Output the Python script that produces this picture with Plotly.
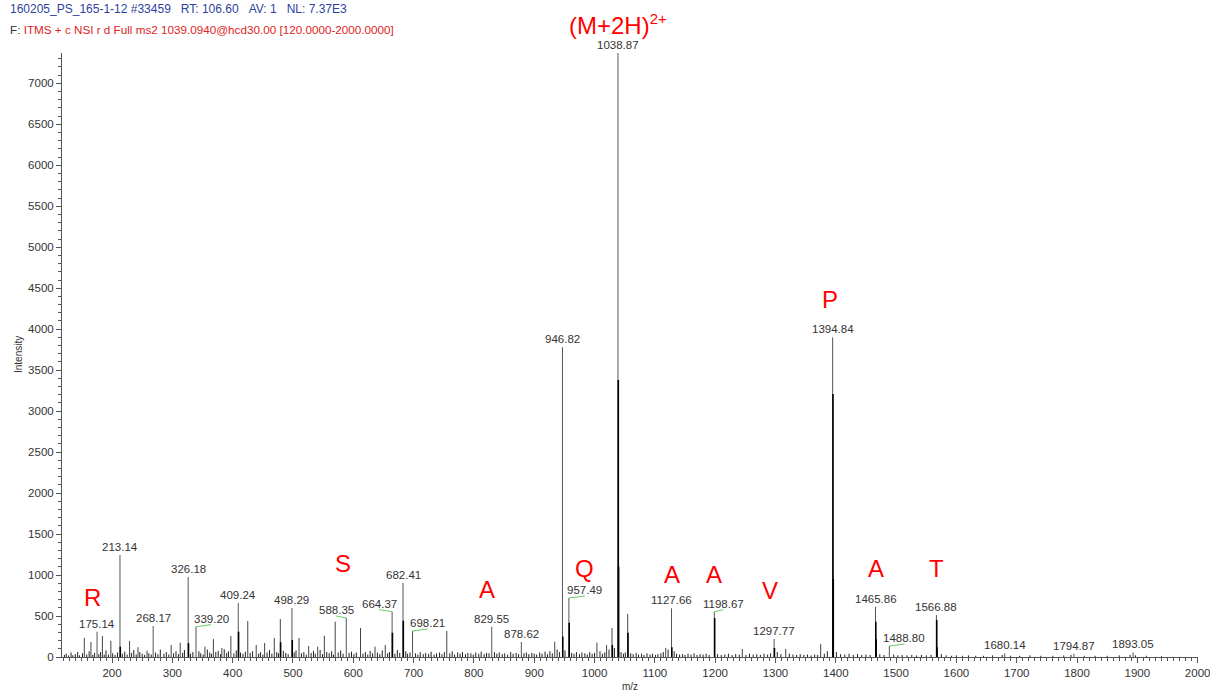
import plotly.graph_objects as go

# ---------------- data ----------------
# labelled peaks (m/z, intensity)
label_mz = [175.14, 213.14, 268.17, 326.18, 339.20, 409.24, 498.29, 588.35, 664.37,
            682.41, 698.21, 829.55, 878.62, 946.82, 957.49, 1038.87, 1127.66, 1198.67,
            1297.77, 1394.84, 1465.86, 1488.80, 1566.88, 1680.14, 1794.87, 1893.05]
label_int = [309, 1244, 378, 975, 370, 658, 598, 476, 553,
             905, 317, 370, 183, 3780, 720, 7370, 594, 553,
             219, 3900, 613, 134, 512, 45, 40, 55]

# unlabelled medium peaks
other_mz = [154, 165, 184, 198, 229, 243, 258, 298, 313, 354, 368, 382, 397, 425, 439,
            453, 469, 479, 510, 526, 541, 552, 570, 612, 636, 653, 755, 934, 1004, 1020,
            1029, 1055, 1118, 1245, 1317, 1375]
other_int = [232, 183, 256, 199, 195, 120, 77, 146, 175, 126, 219, 110, 256, 439, 146,
             171, 232, 463, 232, 134, 126, 260, 431, 354, 126, 146, 317, 187, 175, 146,
             354, 524, 110, 98, 98, 159]

# isotope / companion sticks (drawn darker)
iso_mz = [213.64, 326.68, 409.74, 479.5, 498.79, 664.87, 682.91, 947.32, 957.99,
          1029.5, 1039.37, 1039.87, 1055.5, 1128.16, 1199.17, 1298.27, 1395.34, 1395.84,
          1466.36, 1466.86, 1567.38, 1567.88]
iso_int = [126, 170, 309, 180, 207, 296, 443, 250, 418,
           146, 3380, 1100, 296, 120, 475, 110, 3210, 950,
           430, 220, 451, 122]

# baseline noise (m/z, intensity)
noise = [
    (121, 25), (124, 40), (128, 18), (132, 55), (135, 22), (139, 35), (143, 60), (146, 20),
    (151, 45), (158, 30), (162, 70), (168, 25), (171, 50), (178, 35), (181, 60), (187, 28),
    (190, 80), (194, 30), (201, 45), (205, 25), (209, 55), (217, 40), (221, 65), (225, 30),
    (232, 50), (236, 85), (240, 30), (246, 60), (250, 40), (254, 25), (261, 45), (265, 30),
    (272, 55), (276, 35), (280, 90), (286, 40), (290, 60), (294, 30), (302, 45), (306, 70),
    (310, 35), (317, 50), (320, 85), (330, 40), (334, 60), (344, 70), (347, 45), (351, 30),
    (358, 90), (362, 55), (365, 40), (372, 60), (376, 75), (380, 35), (386, 95), (390, 50),
    (393, 70), (402, 45), (406, 80), (413, 55), (417, 40), (421, 65), (429, 50), (433, 70),
    (443, 40), (446, 60), (450, 30), (457, 55), (461, 85), (465, 40), (473, 60), (476, 45),
    (484, 75), (488, 50), (492, 35), (502, 55), (505, 80), (514, 45), (518, 60), (522, 30),
    (530, 50), (534, 75), (537, 40), (545, 85), (549, 35), (556, 60), (560, 45), (564, 70),
    (567, 30), (575, 55), (579, 80), (583, 40), (593, 50), (597, 65), (601, 35), (605, 55),
    (616, 40), (620, 60), (624, 30), (628, 75), (632, 45), (640, 55), (644, 35), (648, 80),
    (657, 45), (660, 60), (669, 40), (673, 85), (677, 50), (687, 70), (690, 40), (694, 55),
    (703, 45), (707, 30), (711, 60), (716, 35), (720, 50), (725, 40), (729, 65), (734, 30),
    (738, 45), (743, 55), (747, 35), (751, 60), (760, 45), (764, 70), (768, 30), (773, 55),
    (777, 40), (781, 60), (786, 35), (790, 50), (795, 45), (799, 30), (803, 55), (808, 40),
    (812, 65), (817, 35), (821, 50), (825, 45), (834, 60), (838, 40), (842, 55), (847, 35),
    (851, 45), (856, 30), (861, 60), (865, 40), (870, 50), (874, 35), (883, 45), (887, 55),
    (891, 35), (896, 50), (900, 40), (904, 30), (909, 55), (913, 40), (918, 65), (922, 35),
    (926, 70), (930, 45), (938, 90), (942, 60), (951, 80), (962, 50), (966, 40), (970, 60),
    (975, 35), (979, 55), (984, 45), (988, 30), (992, 60), (996, 40), (1000, 50), (1009, 70),
    (1013, 40), (1017, 55), (1024, 90), (1033, 110), (1044, 60), (1048, 40), (1051, 55),
    (1060, 45), (1064, 35), (1069, 50), (1073, 30), (1078, 40), (1082, 25), (1087, 45),
    (1092, 30), (1096, 40), (1101, 25), (1105, 35), (1110, 45), (1114, 60), (1122, 90),
    (1132, 70), (1136, 40), (1141, 30), (1146, 35), (1150, 25), (1155, 40), (1160, 30),
    (1165, 45), (1170, 25), (1175, 35), (1180, 30), (1185, 40), (1190, 25), (1204, 35),
    (1210, 25), (1216, 30), (1222, 40), (1228, 25), (1234, 35), (1240, 30), (1251, 25),
    (1257, 40), (1263, 30), (1269, 35), (1275, 25), (1281, 40), (1287, 30), (1292, 45),
    (1303, 60), (1309, 35), (1323, 40), (1329, 30), (1335, 25), (1341, 35), (1347, 25),
    (1353, 30), (1359, 20), (1365, 30), (1370, 25), (1381, 40), (1386, 70), (1401, 60),
    (1408, 35), (1415, 30), (1422, 40), (1429, 25), (1436, 35), (1443, 25), (1450, 30),
    (1457, 25), (1473, 35), (1480, 25), (1496, 30), (1503, 20), (1510, 25), (1518, 20),
    (1526, 25), (1534, 20), (1542, 25), (1550, 20), (1558, 25), (1575, 35), (1583, 20),
    (1592, 15), (1600, 20), (1610, 15), (1620, 20), (1632, 15), (1645, 15), (1660, 20),
    (1676, 25), (1690, 15), (1705, 15), (1722, 20), (1740, 15), (1760, 15), (1778, 20),
    (1790, 25), (1812, 15), (1830, 15), (1850, 15), (1870, 20), (1888, 25), (1897, 20),
    (1915, 15), (1940, 10),
]

# fragment-ion letters: (text, m/z position, intensity position)
ion_letters = [("R", 167, 732), ("S", 583, 1146), ("A", 822, 829), ("Q", 984, 1085),
               ("A", 1128, 1012), ("A", 1198, 1012), ("V", 1291, 817), ("P", 1390, 4366),
               ("A", 1466, 1085), ("T", 1567, 1085)]

# peak labels that are offset sideways with a green connector (pixel offset)
label_offset = {339.20: 15, 588.35: -10, 664.37: -13, 698.21: 15, 957.49: 16,
                1198.67: 9, 1488.80: 15}

X_RANGE = [117, 2000.6]
Y_RANGE = [0, 7370]
FONT = "Liberation Sans, Arial, sans-serif"
NB = "&nbsp;"


def sticks(mz, inten):
    xs, ys = [], []
    for m, v in zip(mz, inten):
        xs += [m, m, None]
        ys += [0, v, None]
    return xs, ys


fig = go.Figure()

nx, ny = sticks([p[0] for p in noise], [p[1] for p in noise])
fig.add_trace(go.Scatter(x=nx, y=ny, mode="lines", line=dict(color="#222222", width=1),
                         hoverinfo="skip", showlegend=False))
ox, oy = sticks(other_mz, other_int)
fig.add_trace(go.Scatter(x=ox, y=oy, mode="lines", line=dict(color="#444444", width=1),
                         hoverinfo="skip", showlegend=False))
lx, ly = sticks(label_mz, label_int)
fig.add_trace(go.Scatter(x=lx, y=ly, mode="lines", line=dict(color="#555555", width=1),
                         hoverinfo="skip", showlegend=False))
ix, iy = sticks(iso_mz, iso_int)
fig.add_trace(go.Scatter(x=ix, y=iy, mode="lines", line=dict(color="#000000", width=1.6),
                         hoverinfo="skip", showlegend=False))

annotations = []
shapes = []
for m, v in zip(label_mz, label_int):
    dx = label_offset.get(m, 0)
    annotations.append(dict(x=m, y=v, xref="x", yref="y", text=f"{m:.2f}",
                            showarrow=False, xanchor="center", yanchor="bottom",
                            xshift=dx, yshift=0,
                            font=dict(family=FONT, size=11.5, color="#333333")))
    if dx:
        shapes.append(dict(type="line", xref="x", yref="y",
                           xsizemode="pixel", ysizemode="pixel",
                           xanchor=m, yanchor=v, x0=0, x1=dx, y0=0, y1=2,
                           line=dict(color="#66cc66", width=1)))

for t, xm, yv in ion_letters:
    annotations.append(dict(x=xm, y=yv, xref="x", yref="y", text=t, showarrow=False,
                            xanchor="center", yanchor="middle",
                            font=dict(family=FONT, size=24, color="#ff0000")))

PW = 1210 - 62 - 12
PH = 691 - 53 - 34

# precursor label, above the plotting area
annotations.append(dict(x=1039, y=(657 - 25) / PH, xref="x", yref="paper",
                        text="(M+2H)<sup><span style='font-size:15px'>2+</span></sup>",
                        showarrow=False, xanchor="center", yanchor="middle",
                        font=dict(family=FONT, size=24, color="#ff0000")))

# header lines
annotations.append(dict(x=(8 - 62) / PW, y=(657 - 9) / PH, xref="paper", yref="paper",
                        text="160205_PS_165-1-12 #33459" + NB * 3 + "RT: 106.60" + NB * 3
                             + "AV: 1" + NB * 3 + "NL: 7.37E3",
                        showarrow=False, xanchor="left", yanchor="middle",
                        font=dict(family=FONT, size=12, color="#2f3f9f")))
annotations.append(dict(x=(8 - 62) / PW, y=(657 - 30) / PH, xref="paper", yref="paper",
                        text="F: <span style='color:#e02424'>ITMS + c NSI r d Full ms2 "
                             "1039.0940@hcd30.00 [120.0000-2000.0000]</span>",
                        showarrow=False, xanchor="left", yanchor="middle",
                        font=dict(family=FONT, size=11.7, color="#333333")))
# axis titles
annotations.append(dict(x=0.5, y=(657 - 686) / PH, xref="paper", yref="paper", text="m/z",
                        showarrow=False, xanchor="center", yanchor="middle",
                        font=dict(family=FONT, size=10, color="#333333")))
annotations.append(dict(x=(18 - 62) / PW, y=0.5, xref="paper", yref="paper", text="Intensity",
                        showarrow=False, xanchor="center", yanchor="middle", textangle=-90,
                        font=dict(family=FONT, size=10, color="#333333")))

fig.update_layout(
    width=1210, height=691, autosize=False,
    margin=dict(l=62, r=12, t=53, b=34),
    paper_bgcolor="white", plot_bgcolor="white",
    showlegend=False,
    annotations=annotations, shapes=shapes,
    xaxis=dict(range=X_RANGE, showgrid=False, zeroline=False, showline=True,
               linecolor="#555555", linewidth=1, ticks="outside", ticklen=5,
               tickcolor="#555555", tick0=0, dtick=100, ticklabeloverflow="allow",
               automargin=False,
               tickfont=dict(family=FONT, size=11.5, color="#333333"),
               minor=dict(dtick=10, ticks="outside", ticklen=3, tickcolor="#555555")),
    yaxis=dict(range=Y_RANGE, showgrid=False, zeroline=False, showline=True,
               linecolor="#555555", linewidth=1, ticks="outside", ticklen=5,
               tickcolor="#555555", tick0=0, dtick=500, automargin=False,
               tickfont=dict(family=FONT, size=11.5, color="#333333"),
               minor=dict(dtick=100, ticks="outside", ticklen=3, tickcolor="#555555")),
)

fig.write_html("out.html", config={"displayModeBar": False},
               post_script="document.body.style.margin='0px';"
                           "document.body.style.overflow='hidden';")
